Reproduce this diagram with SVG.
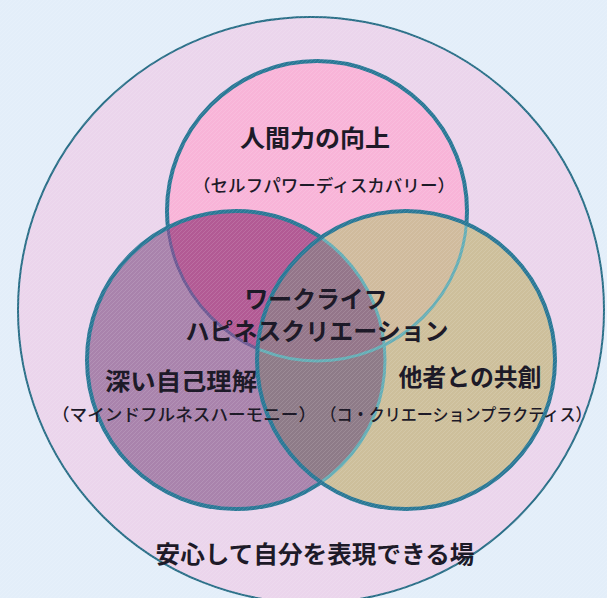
<svg xmlns="http://www.w3.org/2000/svg" width="607" height="598" viewBox="0 0 607 598">
<style>
.ring{stroke:#2a7896;stroke-width:4;fill:none}
.t{font-family:"Noto Sans CJK JP","Noto Sans",sans-serif;fill:#1d1a28;text-anchor:middle}
.b{font-weight:700}
.s{font-weight:500}
</style>
<defs>
<clipPath id="cp"><circle cx="317" cy="211" r="150"/></clipPath>
<clipPath id="cl"><circle cx="236" cy="360" r="149"/></clipPath>
<clipPath id="cr"><circle cx="406" cy="360" r="149"/></clipPath>
<pattern id="tex" width="4" height="4" patternUnits="userSpaceOnUse">
<rect width="4" height="4" fill="none"/>
<path d="M0 4L4 0" stroke="#ffffff" stroke-opacity="0.12" stroke-width="1"/>
</pattern>
</defs>
<rect width="607" height="598" fill="#e3eef9"/>
<g id="space">
<circle cx="311" cy="310" r="293" fill="#ebd5ec" stroke="#2a6f88" stroke-width="2"/>
</g>
<g id="self-power">
<circle cx="317" cy="211" r="150" fill="#f8b4d8"/>
<circle cx="317" cy="211" r="150" class="ring"/>
</g>
<g id="mindfulness">
<circle cx="236" cy="360" r="149" fill="#a983ac"/>
<circle cx="236" cy="360" r="149" fill="#b25a94" clip-path="url(#cp)"/>
<circle cx="317" cy="211" r="150" fill="none" stroke="#6c5a94" stroke-width="3" clip-path="url(#cl)"/>
<circle cx="236" cy="360" r="149" class="ring"/>
</g>
<g id="co-creation">
<circle cx="406" cy="360" r="149" fill="#cdbf9b"/>
<circle cx="406" cy="360" r="149" fill="#d0bb9d" clip-path="url(#cp)"/>
<circle cx="406" cy="360" r="149" fill="#8e7b88" clip-path="url(#cl)"/>
<g clip-path="url(#cl)"><circle cx="406" cy="360" r="149" fill="#94768a" clip-path="url(#cp)"/></g>
<g clip-path="url(#cr)" fill="none" stroke="#66aeb6" stroke-width="3">
<circle cx="317" cy="211" r="150"/>
<circle cx="236" cy="360" r="149"/>
</g>
<circle cx="406" cy="360" r="149" class="ring"/>
</g>
<rect width="607" height="598" fill="url(#tex)"/>
<g id="labels">
<text class="t b" x="315" y="147" font-size="24" textLength="150" lengthAdjust="spacingAndGlyphs">人間力の向上</text>
<text class="t s" x="324" y="192" font-size="17" textLength="262" lengthAdjust="spacingAndGlyphs">（セルフパワーディスカバリー）</text>
<text class="t b" x="316" y="308" font-size="24" textLength="143" lengthAdjust="spacingAndGlyphs">ワークライフ</text>
<text class="t b" x="317" y="340" font-size="24" textLength="263" lengthAdjust="spacingAndGlyphs">ハピネスクリエーション</text>
<text class="t b" x="181" y="390" font-size="24" textLength="152" lengthAdjust="spacingAndGlyphs">深い自己理解</text>
<text class="t b" x="470" y="386" font-size="24" textLength="143" lengthAdjust="spacingAndGlyphs">他者との共創</text>
<text class="t s" x="184" y="421" font-size="17" textLength="264" lengthAdjust="spacingAndGlyphs">（マインドフルネスハーモニー）</text>
<text class="t s" x="456" y="421" font-size="17" textLength="271" lengthAdjust="spacingAndGlyphs">（コ・クリエーションプラクティス）</text>
<text class="t b" x="315" y="563" font-size="24" textLength="319" lengthAdjust="spacingAndGlyphs">安心して自分を表現できる場</text>
</g>
</svg>
